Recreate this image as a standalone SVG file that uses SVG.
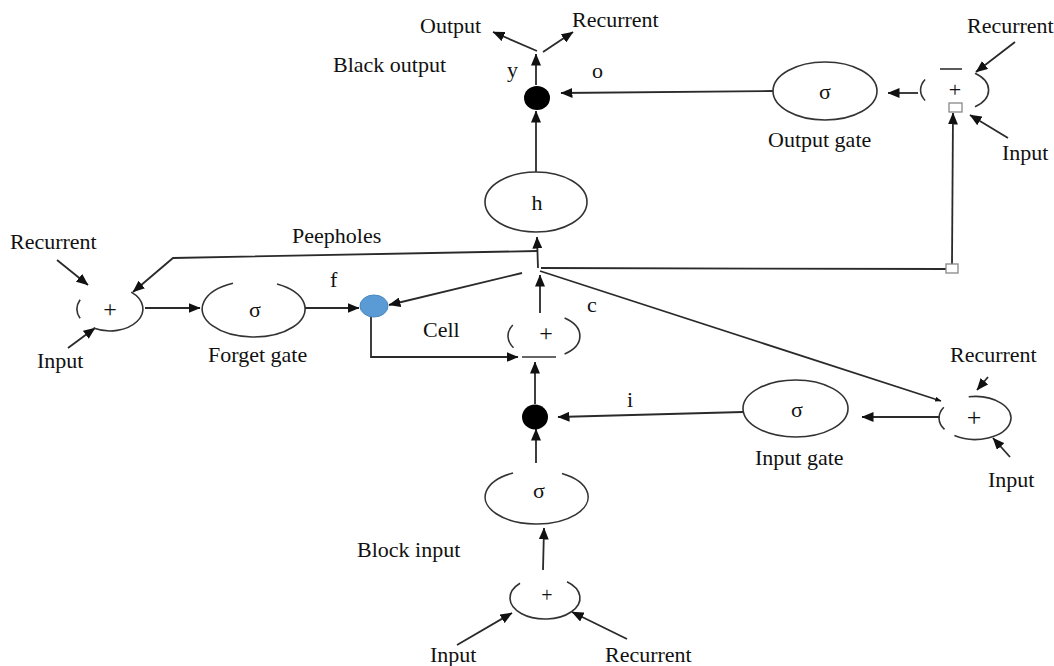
<svg xmlns="http://www.w3.org/2000/svg" width="1054" height="666" viewBox="0 0 1054 666">
<style>
text{font-family:"Liberation Serif","Times New Roman",serif;font-size:22px;fill:#111}
.sym{text-anchor:middle}
.shape{fill:none;stroke:#333;stroke-width:1.6}
.con{fill:none;stroke:#2a2a2a;stroke-width:1.8}
.sq{fill:#fff;stroke:#888;stroke-width:1.3}
</style>
<defs>
<marker id="ah" viewBox="0 0 12 10" markerWidth="12" markerHeight="10" refX="11.5" refY="5" orient="auto" markerUnits="userSpaceOnUse">
<path d="M0,0 L12,5 L0,10 z" fill="#111"/>
</marker>
<marker id="ahs" viewBox="0 0 12 10" markerWidth="6" markerHeight="5" refX="11.5" refY="5" orient="auto" markerUnits="userSpaceOnUse">
<path d="M0,0 L12,5 L0,10 z" fill="#111"/>
</marker>
</defs>
<rect width="1054" height="666" fill="#fff"/>

<g id="connectors">
<path class="con" d="M536,172 L536,111" marker-end="url(#ah)"/>
<path class="con" d="M536,85 L536,54" marker-end="url(#ah)"/>
<path class="con" d="M537,51 L493,32" marker-end="url(#ah)"/>
<path class="con" d="M543,52 L573,32" marker-end="url(#ah)"/>
<path class="con" d="M773,91 L561,93" marker-end="url(#ah)"/>
<path class="con" d="M918,93 L888,93" marker-end="url(#ah)"/>
<path class="con" d="M1015,42 L976,72" marker-end="url(#ah)"/>
<path class="con" d="M1008,138 L970,115" marker-end="url(#ah)"/>
<path class="con" d="M952,264 L953,113" marker-end="url(#ah)"/>
<path class="con" d="M541,268 L946,269"/>
<path class="con" d="M538,268 L537,237" marker-end="url(#ah)"/>
<path class="con" d="M537,251 L173,258 L133,292" marker-end="url(#ah)"/>
<path class="con" d="M540,313 L540,275" marker-end="url(#ah)"/>
<path class="con" d="M522,273 L389,305" marker-end="url(#ah)"/>
<path class="con" d="M540,271 L941,401" marker-end="url(#ahs)"/>
<path class="con" d="M305,308 L359,308" marker-end="url(#ah)"/>
<path class="con" d="M145,308 L200,308" marker-end="url(#ah)"/>
<path class="con" d="M57,260 L88,285" marker-end="url(#ah)"/>
<path class="con" d="M68,348 L95,328" marker-end="url(#ah)"/>
<path class="con" d="M371,317 L371,357 L518,357" marker-end="url(#ah)"/>
<path class="con" d="M535,404 L535,362" marker-end="url(#ah)"/>
<path class="con" d="M743,412 L558,417" marker-end="url(#ah)"/>
<path class="con" d="M940,417 L862,417" marker-end="url(#ah)"/>
<path class="con" d="M988,377 L977,390" marker-end="url(#ah)"/>
<path class="con" d="M1010,457 L993,438" marker-end="url(#ah)"/>
<path class="con" d="M536,463 L536,429" marker-end="url(#ah)"/>
<path class="con" d="M543,570 L544,528" marker-end="url(#ah)"/>
<path class="con" d="M457,645 L512,613" marker-end="url(#ah)"/>
<path class="con" d="M627,639 L572,612" marker-end="url(#ah)"/>
<rect class="sq" x="946" y="264" width="12" height="9"/>
</g>

<g id="block-output">
<ellipse cx="537" cy="98" rx="13" ry="12" fill="#000"/>
<text x="507" y="77">y</text>
<text x="592" y="78">o</text>
<text x="333" y="72">Black output</text>
<text x="420" y="33">Output</text>
<text x="572" y="27">Recurrent</text>
</g>

<g id="output-gate">
<ellipse class="shape" cx="825" cy="91" rx="52" ry="29"/>
<text class="sym" x="825" y="99">σ</text>
<text x="768" y="147">Output gate</text>
</g>

<g id="output-sum">
<path class="shape" d="M925.1,79.5 A34,21 0 0 0 925.1,100.5"/>
<path class="shape" d="M940,69 L962,69"/>
<path class="shape" d="M975,73.2 A34,21 0 0 1 975,106.8"/>
<text class="sym" x="955" y="97" style="font-size:22px">+</text>
<rect class="sq" x="949" y="103" width="13" height="9"/>
<text x="967" y="33">Recurrent</text>
<text x="1002" y="160">Input</text>
</g>

<g id="h-node">
<ellipse class="shape" cx="536" cy="202" rx="51" ry="30"/>
<text class="sym" x="537" y="210">h</text>
</g>

<g id="peepholes">
<text x="292" y="243">Peepholes</text>
</g>

<g id="forget-sum">
<path class="shape" d="M80.1,299.7 A33,22 0 0 0 80.1,318.3"/>
<path class="shape" d="M131.2,292.1 A33,22 0 0 1 93.5,328"/>
<text class="sym" x="110" y="317" style="font-size:24px">+</text>
<text x="10" y="249">Recurrent</text>
<text x="37" y="368">Input</text>
</g>

<g id="forget-gate">
<path class="shape" d="M277,284 A51.5,28 0 1 1 233,283.3"/>
<text class="sym" x="255" y="317">σ</text>
<text x="208" y="362">Forget gate</text>
</g>

<g id="forget-mult">
<ellipse cx="374" cy="306" rx="14" ry="11" fill="#5B9BD5" stroke="#4a86c0" stroke-width="1"/>
<text x="330" y="287">f</text>
</g>

<g id="cell">
<path class="shape" d="M512.8,325 A36,22 0 0 0 513.5,347.7"/>
<path class="shape" d="M564.6,318 A36,22 0 0 1 564.6,354"/>
<path class="shape" d="M522,357 L556,357"/>
<text class="sym" x="546" y="341" style="font-size:24px">+</text>
<text x="423" y="337">Cell</text>
<text x="587" y="312">c</text>
</g>

<g id="input-mult">
<ellipse cx="535" cy="417" rx="13" ry="12.5" fill="#000"/>
<text x="627" y="407">i</text>
</g>

<g id="input-gate">
<ellipse class="shape" cx="795.5" cy="408.5" rx="52.5" ry="28.5"/>
<text class="sym" x="797" y="417">σ</text>
<text x="755" y="465">Input gate</text>
</g>

<g id="input-sum">
<path class="shape" d="M943.8,407.3 A36,21.5 0 0 0 944.5,429.4"/>
<path class="shape" d="M968.7,396.8 A36,21.5 0 1 1 954.4,435.6"/>
<text class="sym" x="974" y="426" style="font-size:26px">+</text>
<text x="950" y="362">Recurrent</text>
<text x="988" y="487">Input</text>
</g>

<g id="block-input">
<path class="shape" d="M562,473.5 A51.5,27 0 1 1 513,473"/>
<text class="sym" x="539" y="498">σ</text>
<text x="357" y="557">Block input</text>
</g>

<g id="block-sum">
<path class="shape" d="M567,581.7 A35,21 0 1 1 520,583.3"/>
<text class="sym" x="547" y="602" style="font-size:20px">+</text>
<text x="430" y="662">Input</text>
<text x="605" y="662">Recurrent</text>
</g>
</svg>
